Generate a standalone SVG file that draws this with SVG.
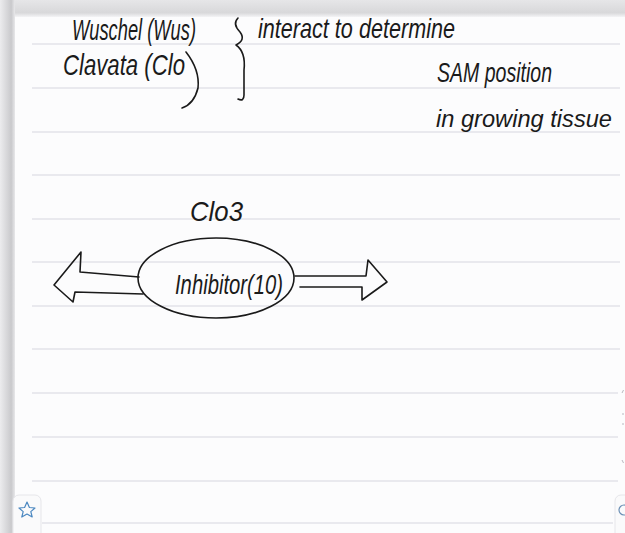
<svg xmlns="http://www.w3.org/2000/svg" width="625" height="533" viewBox="0 0 625 533">
<defs>
<linearGradient id="topShade" x1="0" y1="0" x2="0" y2="1">
<stop offset="0" stop-color="#e6e6e8"/><stop offset="0.75" stop-color="#d8d8da"/><stop offset="1" stop-color="#f4f4f6"/>
</linearGradient>
<linearGradient id="leftShade" x1="0" y1="0" x2="1" y2="0">
<stop offset="0" stop-color="#ececee"/><stop offset="0.75" stop-color="#c9c9cc"/><stop offset="1" stop-color="#e8e8ea"/>
</linearGradient>
<style>
.rule{stroke:#e3e3e8;stroke-width:1.3}
.hand{font-family:"Liberation Sans","DejaVu Sans",sans-serif;fill:#1a1a1a;font-style:italic}
.ink{fill:none;stroke:#1a1a1a;stroke-width:1.6;stroke-linecap:round;stroke-linejoin:round}
</style>
</defs>
<rect width="625" height="533" fill="#fcfcfd"/>
<rect x="0" y="0" width="625" height="17" fill="url(#topShade)"/>
<rect x="0" y="0" width="15" height="533" fill="url(#leftShade)"/>
<g id="rules">
<line class="rule" x1="32" y1="44" x2="620" y2="44"/>
<line class="rule" x1="32" y1="88" x2="620" y2="88"/>
<line class="rule" x1="32" y1="132" x2="620" y2="132"/>
<line class="rule" x1="32" y1="175" x2="620" y2="175"/>
<line class="rule" x1="32" y1="219" x2="620" y2="219"/>
<line class="rule" x1="32" y1="262" x2="620" y2="262"/>
<line class="rule" x1="32" y1="306" x2="620" y2="306"/>
<line class="rule" x1="32" y1="349" x2="620" y2="349"/>
<line class="rule" x1="32" y1="393" x2="618" y2="393"/>
<line class="rule" x1="32" y1="437" x2="618" y2="437"/>
<line class="rule" x1="32" y1="481" x2="618" y2="481"/>
<line class="rule" x1="42" y1="523" x2="613" y2="523"/>
</g>
<g id="notes-top">
<text class="hand" x="72" y="40" font-size="30" textLength="124" lengthAdjust="spacingAndGlyphs">Wuschel (Wus)</text>
<text class="hand" x="63" y="75" font-size="30" textLength="122" lengthAdjust="spacingAndGlyphs">Clavata (Clo</text>
<path class="ink" d="M186 52 Q200 70 198 88 Q194 104 182 108"/>
<path class="ink" d="M238 18 Q232 24 240 32 Q246 40 236 45 Q246 52 244 70 L244 95 Q244 102 238 99"/>
<text class="hand" x="258" y="38" font-size="28" textLength="197" lengthAdjust="spacingAndGlyphs">interact to determine</text>
<text class="hand" x="437" y="82" font-size="27" textLength="115" lengthAdjust="spacingAndGlyphs">SAM position</text>
<text class="hand" x="436" y="127" font-size="24" textLength="176" lengthAdjust="spacingAndGlyphs">in growing tissue</text>
</g>
<g id="label-clo3">
<text class="hand" x="190" y="221" font-size="28" textLength="53" lengthAdjust="spacingAndGlyphs">Clo3</text>
</g>
<g id="node-inhibitor">
<ellipse class="ink" cx="216" cy="278" rx="78" ry="40"/>
<text class="hand" x="175" y="294" font-size="28" textLength="108" lengthAdjust="spacingAndGlyphs">Inhibitor(10)</text>
</g>
<g id="connectors">
<path class="ink" d="M139 277 L80 272 L81 252 L54 285 L73 302 L75 292 L143 294"/>
<path class="ink" d="M295 276 L366 276 L368 260 L387 282 L362 300 L362 287 L300 287"/>
</g>
<g id="ui">
<rect x="13" y="495" width="28" height="45" rx="6" fill="#fafafb" stroke="#e6e6ea"/>
<path d="M27 502 L29.4 507.5 L35 508 L30.8 511.6 L32.2 517 L27 514 L21.8 517 L23.2 511.6 L19 508 L24.6 507.5 Z" fill="none" stroke="#4a87c0" stroke-width="1.2" stroke-linejoin="round"/>
<rect x="615" y="495" width="20" height="45" rx="6" fill="#fafafb" stroke="#e6e6ea"/>
<circle cx="624" cy="510" r="5" fill="none" stroke="#6b8fb5" stroke-width="1.2"/>
<path d="M622 393 l1.5 -3 M622 414 l2 0 M622 424 l2 0 M622 460 l1.5 3" stroke="#b8b8c0" stroke-width="1"/>
</g>
</svg>
